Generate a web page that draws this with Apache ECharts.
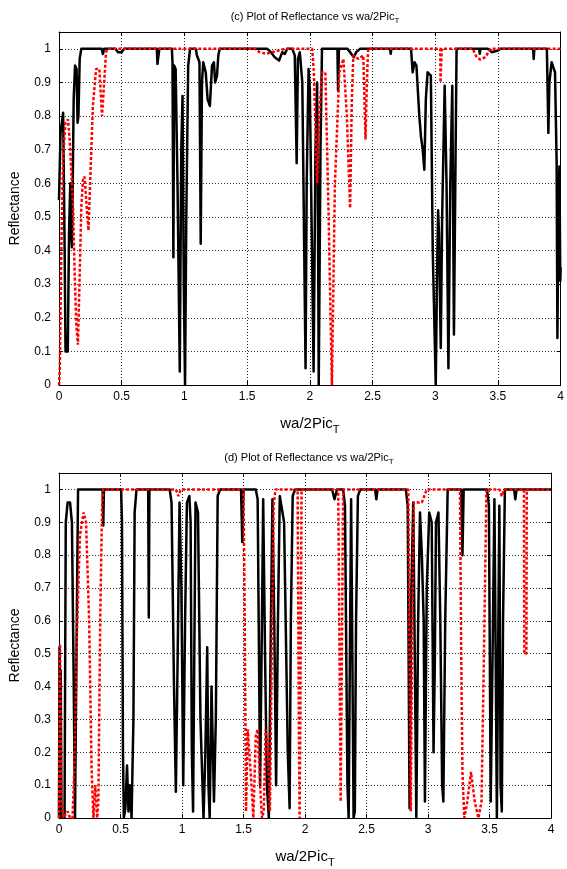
<!DOCTYPE html>
<html>
<head>
<meta charset="utf-8">
<script src="https://cdn.jsdelivr.net/npm/echarts@6/dist/echarts.min.js"></script>
<style>
html,body{margin:0;padding:0;background:#fff;}
#chart{width:567px;height:869px;}
</style>
</head>
<body>
<div id="chart"></div>
<script>
// ---- Data: [x, reflectance] ----
var xTicks = [0, 0.5, 1, 1.5, 2, 2.5, 3, 3.5, 4];
var yTicks = [0, 0.1, 0.2, 0.3, 0.4, 0.5, 0.6, 0.7, 0.8, 0.9, 1];

var cBlack = [
 [0,0.55],[0.012,0.75],[0.033,0.81],[0.045,0.4],[0.052,0.1],[0.07,0.1],[0.08,0.45],[0.09,0.6],[0.097,0.45],[0.103,0.41],[0.108,0.55],[0.117,0.85],[0.128,0.95],[0.14,0.94],[0.148,0.78],[0.155,0.8],[0.165,0.97],[0.178,1.0],
 [0.34,1.0],[0.35,0.985],[0.36,1.0],[0.45,1.0],[0.47,0.99],[0.5,0.99],[0.52,1.0],[0.78,1.0],[0.785,0.955],[0.795,0.955],[0.80,1.0],
 [0.9,1.0],[0.905,0.96],[0.912,0.38],[0.918,0.95],[0.93,0.94],[0.945,0.6],[0.963,0.04],[0.975,0.7],[0.985,0.86],[0.995,0.3],[1.005,0.0],[1.015,0.5],[1.03,0.95],[1.045,1.0],
 [1.09,1.0],[1.1,0.98],[1.12,0.96],[1.13,0.42],[1.14,0.9],[1.15,0.96],[1.17,0.93],[1.185,0.85],[1.203,0.83],[1.22,0.95],[1.235,0.96],[1.245,0.9],[1.26,0.92],[1.27,0.98],[1.282,1.0],
 [1.66,1.0],[1.69,0.99],[1.72,0.975],[1.755,0.965],[1.78,0.99],[1.8,0.985],[1.82,1.0],[1.86,1.0],[1.88,0.98],[1.895,0.66],[1.905,0.97],[1.92,0.99],[1.94,0.9],[1.966,0.05],[1.975,0.6],[1.99,0.94],[2.0,0.88],[2.03,0.04],[2.045,0.7],[2.058,0.9],[2.065,0.5],[2.071,0.0],[2.085,0.7],[2.097,1.0],
 [2.22,1.0],[2.225,0.875],[2.232,1.0],[2.3,1.0],[2.33,0.985],[2.35,0.975],[2.37,0.99],[2.4,1.0],
 [2.64,1.0],[2.645,0.985],[2.65,1.0],[2.807,1.0],[2.82,0.93],[2.835,0.96],[2.85,0.95],[2.873,0.8],[2.886,0.74],[2.9,0.7],[2.913,0.64],[2.925,0.85],[2.939,0.93],[2.965,0.92],[2.98,0.4],[2.992,0.2],[3.004,0.0],[3.015,0.35],[3.023,0.52],[3.03,0.45],[3.044,0.11],[3.055,0.5],[3.075,0.89],[3.09,0.6],[3.105,0.05],[3.12,0.6],[3.136,0.89],[3.149,0.15],[3.16,0.6],[3.17,1.0],
 [3.35,1.0],[3.355,0.985],[3.36,1.0],[3.42,1.0],[3.45,0.99],[3.5,0.995],[3.52,1.0],[3.78,1.0],[3.785,0.97],[3.79,1.0],
 [3.89,1.0],[3.902,0.75],[3.91,0.9],[3.928,0.96],[3.955,0.93],[3.968,0.66],[3.974,0.14],[3.982,0.5],[3.99,0.65],[3.997,0.31],[4.0,0.35]
];

var cRed = [
 [0,0.0],[0.0066,0.05],[0.0197,0.43],[0.033,0.68],[0.0513,0.78],[0.072,0.79],[0.085,0.73],[0.112,0.53],[0.125,0.33],[0.138,0.18],[0.151,0.12],[0.165,0.33],[0.178,0.53],[0.191,0.61],[0.204,0.62],[0.217,0.55],[0.235,0.46],[0.251,0.63],[0.27,0.83],[0.296,0.94],[0.322,0.94],[0.343,0.80],[0.362,0.91],[0.375,0.99],[0.388,1.0],
 [1.56,1.0],[1.6,0.99],[1.65,0.985],[1.7,0.99],[1.75,0.995],[1.8,1.0],
 [2.019,1.0],[2.032,0.93],[2.058,0.6],[2.075,0.8],[2.097,0.93],[2.124,0.93],[2.15,0.5],[2.176,0.0],[2.2,0.6],[2.235,0.93],[2.268,0.97],[2.295,0.8],[2.321,0.526],[2.335,0.85],[2.347,0.98],[2.387,0.97],[2.426,0.98],[2.444,0.73],[2.455,0.9],[2.465,1.0],
 [3.04,1.0],[3.042,0.9],[3.05,0.9],[3.052,1.0],
 [3.3,1.0],[3.33,0.975],[3.36,0.968],[3.4,0.975],[3.44,1.0],[4.0,1.0]
];

var dBlack = [
 [0,0.0],[0.004,0.52],[0.01,0.3],[0.014,0.45],[0.02,0.0],[0.045,0.0],[0.055,0.9],[0.07,0.96],[0.09,0.96],[0.105,0.9],[0.12,0.4],[0.13,0.0],[0.14,0.0],[0.147,0.7],[0.155,1.0],
 [0.355,1.0],[0.36,0.89],[0.365,1.0],
 [0.505,1.0],[0.512,0.9],[0.52,0.2],[0.527,0.0],[0.54,0.03],[0.553,0.16],[0.565,0.02],[0.575,0.1],[0.59,0.0],[0.605,0.3],[0.615,0.93],[0.63,1.0],
 [0.725,1.0],[0.73,0.61],[0.735,1.0],
 [0.9,1.0],[0.915,0.96],[0.935,0.4],[0.95,0.08],[0.965,0.5],[0.98,0.96],[0.995,0.7],[1.01,0.1],[1.025,0.6],[1.04,0.96],[1.06,0.98],[1.07,0.9],[1.08,0.2],[1.09,0.02],[1.1,0.5],[1.11,0.96],[1.13,0.93],[1.15,0.3],[1.175,0.0],[1.19,0.2],[1.205,0.52],[1.215,0.1],[1.225,0.0],[1.24,0.4],[1.26,0.05],[1.275,0.3],[1.29,0.98],[1.31,1.0],
 [1.48,1.0],[1.49,0.84],[1.5,1.0],
 [1.6,1.0],[1.615,0.97],[1.635,0.1],[1.65,0.6],[1.66,0.97],[1.675,0.5],[1.69,0.1],[1.706,0.0],[1.72,0.5],[1.735,0.97],[1.75,0.6],[1.765,0.1],[1.78,0.6],[1.795,0.98],[1.81,0.98],[1.83,0.9],[1.86,0.2],[1.875,0.03],[1.885,0.6],[1.9,0.98],[1.92,1.0],
 [2.22,1.0],[2.24,0.97],[2.26,1.0],
 [2.31,1.0],[2.325,0.95],[2.345,0.1],[2.355,0.0],[2.365,0.5],[2.375,0.97],[2.385,0.5],[2.395,0.0],[2.405,0.02],[2.415,0.6],[2.43,0.98],[2.45,1.0],
 [2.57,1.0],[2.58,0.97],[2.59,1.0],
 [2.82,1.0],[2.835,0.95],[2.85,0.03],[2.865,0.7],[2.88,0.96],[2.895,0.4],[2.905,0.0],[2.92,0.6],[2.935,0.93],[2.95,0.8],[2.965,0.6],[2.975,0.05],[2.99,0.7],[3.01,0.93],[3.03,0.9],[3.045,0.2],[3.055,0.46],[3.065,0.9],[3.085,0.93],[3.1,0.6],[3.115,0.1],[3.125,0.05],[3.14,0.6],[3.16,1.0],
 [3.27,1.0],[3.28,0.8],[3.29,1.0],
 [3.48,1.0],[3.495,0.95],[3.51,0.05],[3.525,0.5],[3.54,0.97],[3.55,0.5],[3.56,0.0],[3.57,0.5],[3.58,0.95],[3.59,0.1],[3.6,0.02],[3.61,0.6],[3.625,1.0],
 [3.7,1.0],[3.71,0.97],[3.72,1.0],[4.0,1.0]
];

var dRed = [
 [0,0.0],[0.008,0.53],[0.02,0.05],[0.035,0.0],[0.07,0.02],[0.09,0.0],[0.11,0.0],[0.125,0.15],[0.145,0.55],[0.17,0.86],[0.2,0.93],[0.22,0.9],[0.245,0.6],[0.265,0.15],[0.28,0.0],[0.295,0.1],[0.31,0.0],[0.32,0.05],[0.335,0.6],[0.35,0.95],[0.36,1.0],
 [0.95,1.0],[0.97,0.98],[0.99,1.0],
 [1.5,1.0],[1.51,0.6],[1.52,0.02],[1.535,0.27],[1.55,0.27],[1.565,0.1],[1.58,0.0],[1.6,0.25],[1.615,0.27],[1.635,0.1],[1.65,0.0],[1.665,0.02],[1.68,0.27],[1.7,0.2],[1.715,0.02],[1.73,0.5],[1.745,0.95],[1.76,1.0],
 [1.94,1.0],[1.95,0.3],[1.956,0.0],[1.962,0.3],[1.972,1.0],
 [2.27,1.0],[2.285,0.3],[2.29,0.05],[2.3,0.5],[2.31,1.0],
 [2.84,1.0],[2.85,0.5],[2.86,0.02],[2.87,0.5],[2.885,0.96],[2.95,0.96],[2.99,1.0],
 [3.26,1.0],[3.27,0.5],[3.28,0.14],[3.295,0.0],[3.32,0.05],[3.35,0.14],[3.38,0.05],[3.41,0.0],[3.435,0.05],[3.455,0.5],[3.475,1.0],
 [3.58,1.0],[3.6,0.98],[3.62,1.0],[3.78,1.0],[3.783,0.5],[3.8,0.5],[3.803,1.0],[4.0,1.0]
];

// ---- Chart ----
var FONT = 'Liberation Sans, Arial, sans-serif';
var chart = echarts.init(document.getElementById('chart'), null, {renderer: 'canvas'});

var grids = [
  {left: 57, right: 3, top: 32, height: 353},
  {left: 56, right: 16, top: 473, height: 348}
];

function titleText(letter) {
  return '{m|(' + letter + ') Plot of Reflectance vs wa/2Pic}{s|T}';
}

var xAxes = [], yAxes = [], series = [], titles = [];
[0, 1].forEach(function (i) {
  var common = {gridIndex: i, min: 0, max: 4, interval: 0.5};
  xAxes.push(Object.assign({}, common, {
    type: 'value', position: 'bottom',
    name: '{m|wa/2Pic}{s|T}', nameLocation: 'middle', nameGap: 27,
    nameTextStyle: {rich: {m: {fontSize: 15, fontFamily: FONT, color: '#000'}, s: {fontSize: 11, fontFamily: FONT, color: '#000', padding: [12, 0, 0, 0]}}},
    axisLine: {show: true, onZero: false, lineStyle: {color: '#000', width: 1}},
    axisTick: {show: true, inside: true, length: 4, lineStyle: {color: '#000'}},
    axisLabel: {color: '#000', fontSize: 12, fontFamily: FONT, margin: 6},
    splitLine: {show: true, lineStyle: {color: '#222', type: [1, 2], width: 1}}
  }));
  xAxes.push(Object.assign({}, common, {
    type: 'value', position: 'top',
    axisLine: {show: true, onZero: false, lineStyle: {color: '#000', width: 1}},
    axisTick: {show: true, inside: true, length: 4, lineStyle: {color: '#000'}},
    axisLabel: {show: false}, splitLine: {show: false}
  }));
  var ycommon = {gridIndex: i, min: 0, max: 1.05, interval: 0.1};
  yAxes.push(Object.assign({}, ycommon, {
    type: 'value', position: 'left',
    name: 'Reflectance', nameLocation: 'middle', nameGap: 37,
    nameTextStyle: {fontSize: 14, fontFamily: FONT, color: '#000'},
    axisLine: {show: true, onZero: false, lineStyle: {color: '#000', width: 1}},
    axisTick: {show: true, inside: true, length: 4, lineStyle: {color: '#000'}},
    axisLabel: {color: '#000', fontSize: 12, fontFamily: FONT, margin: 8,
      formatter: function (v) { return v > 1.001 ? '' : String(Math.round(v * 10) / 10); }},
    splitLine: {show: true, lineStyle: {color: '#333', type: [1, 2], width: 1}}
  }));
  yAxes.push(Object.assign({}, ycommon, {
    type: 'value', position: 'right',
    axisLine: {show: true, onZero: false, lineStyle: {color: '#000', width: 1}},
    axisTick: {show: true, inside: true, length: 4, lineStyle: {color: '#000'}},
    axisLabel: {show: false}, splitLine: {show: false}
  }));
});

var sets = [[cBlack, cRed], [dBlack, dRed]];
sets.forEach(function (pair, i) {
  series.push({
    type: 'line', xAxisIndex: i * 2, yAxisIndex: i * 2, data: pair[0],
    showSymbol: false, symbol: 'none', clip: true, animation: false,
    lineStyle: {color: '#000', width: 2.5, join: 'round'}
  });
  series.push({
    type: 'line', xAxisIndex: i * 2, yAxisIndex: i * 2, data: pair[1],
    showSymbol: false, symbol: 'none', clip: true, animation: false,
    lineStyle: {color: '#ff0000', width: 2.5, type: [3, 2]}
  });
});

var titleRich = {
  m: {fontSize: 11, fontWeight: 'normal', fontFamily: FONT, color: '#000'},
  s: {fontSize: 8, fontWeight: 'normal', fontFamily: FONT, color: '#000', padding: [8, 0, 0, 0]}
};
titles.push({text: titleText('c'), left: 310, top: 4, textAlign: 'center',
  textStyle: {fontWeight: 'normal', rich: titleRich}});
titles.push({text: titleText('d'), left: 304, top: 445, textAlign: 'center',
  textStyle: {fontWeight: 'normal', rich: titleRich}});

chart.setOption({
  backgroundColor: '#fff',
  animation: false,
  title: titles,
  grid: grids,
  xAxis: xAxes,
  yAxis: yAxes,
  series: series
});
</script>
</body>
</html>
